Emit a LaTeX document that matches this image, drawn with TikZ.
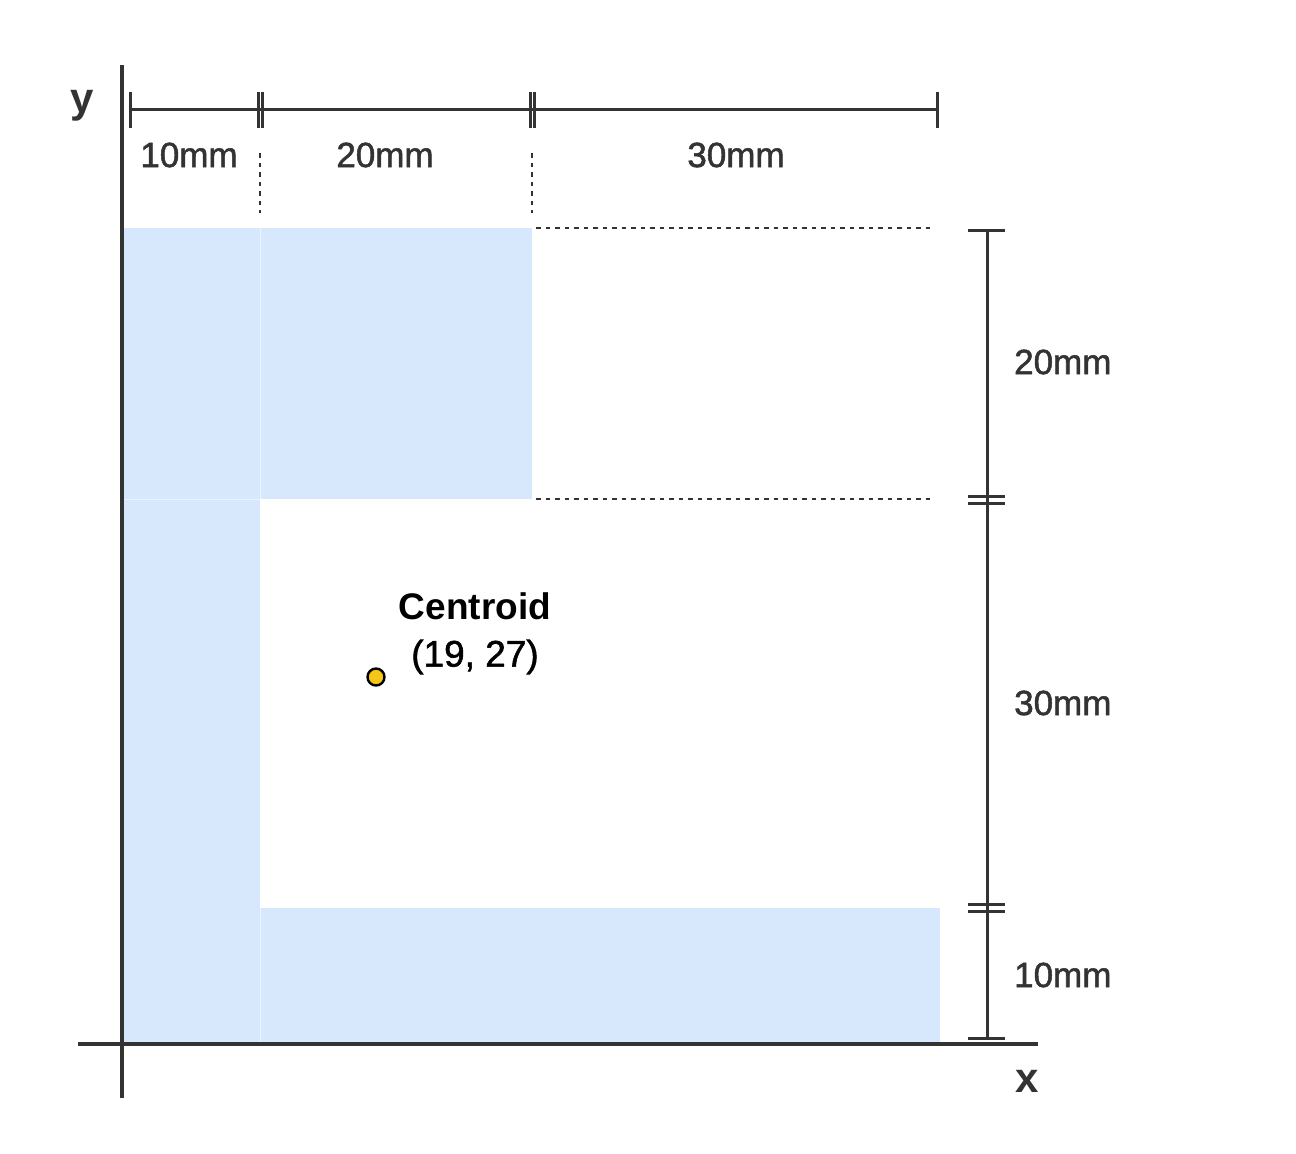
\documentclass[tikz,border=0pt]{standalone}
\usepackage{fontspec}
\setmainfont{Liberation Sans}
\newfontfamily\medfont[FakeBold=1.5]{Liberation Sans}
\definecolor{fillblue}{HTML}{D8E8FC}
\definecolor{ink}{HTML}{333333}
\definecolor{gold}{HTML}{F5C518}
\begin{document}
\begin{tikzpicture}[x=1pt,y=-1pt,
  axis/.style={draw=ink,line width=3.2pt},
  dim/.style={draw=ink,line width=3pt},
  guide/.style={draw=ink,line width=2.8pt,dash pattern=on 4.5pt off 5pt},
  lbl/.style={text=ink,font=\medfont\fontsize{35}{40}\selectfont,inner sep=0pt},
  axlbl/.style={text=ink,font=\fontsize{42}{46}\selectfont\bfseries,inner sep=0pt},
  seam/.style={draw=white,line width=1pt,opacity=0.5}]
\useasboundingbox (0,0) rectangle (1296,1154);
% shaded shape
\fill[fillblue] (122,228) rectangle (260,1044);
\fill[fillblue] (260,228) rectangle (532,499);
\fill[fillblue] (260,908) rectangle (940,1044);
\draw[seam] (260,228) -- (260,1044);
\draw[seam] (122,499) -- (260,499);
% axes
\draw[axis] (122,65) -- (122,1098);
\draw[axis] (78,1044) -- (1038,1044);
\node[axlbl,anchor=base] (ylab) at (82,112) {y};
\node[axlbl,anchor=base] (xlab) at (1027,1092) {x};
% top dimension
\draw[dim] (130,109) -- (937,109);
\foreach \xx in {130,258,262,530,534,937}{\draw[dim] (\xx,92) -- (\xx,128);}
\node[lbl] (d1) at (189,155) {10mm};
\node[lbl] (d2) at (385,155) {20mm};
\node[lbl] (d3) at (736,155) {30mm};
% guides
\draw[guide] (260,153) -- (260,213);
\draw[guide] (532,153) -- (532,213);
\draw[guide] (536,228) -- (935,228);
\draw[guide] (536,499) -- (935,499);
% right dimension
\draw[dim] (987,230) -- (987,1038);
\foreach \yy in {230,496,503,904,911,1038}{\draw[dim] (968,\yy) -- (1005,\yy);}
\node[lbl,anchor=west] (r1) at (1014,362) {20mm};
\node[lbl,anchor=west] (r2) at (1014,703) {30mm};
\node[lbl,anchor=west] (r3) at (1014,975) {10mm};
% centroid
\node[circle,fill=gold,draw=black,line width=2.4pt,minimum size=17pt,inner sep=0pt] (c) at (376,677) {};
\node[inner sep=0pt,font=\fontsize{37}{42}\selectfont\bfseries] (ct) at (475,606) {Centroid};
\node[inner sep=0pt,font=\medfont\fontsize{37}{42}\selectfont] (cc) at (475,657) {(19, 27)};
\end{tikzpicture}
\end{document}
